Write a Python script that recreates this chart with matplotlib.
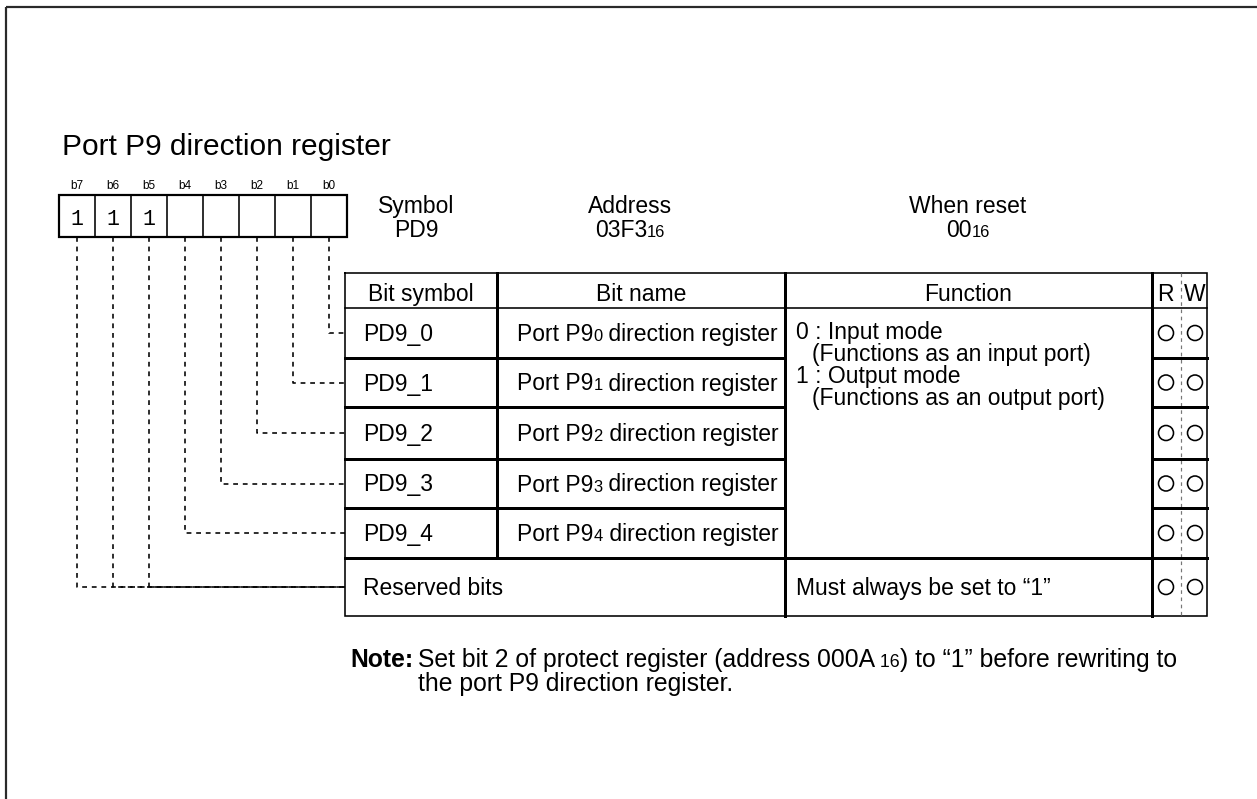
import matplotlib
matplotlib.use("Agg")
import matplotlib.pyplot as plt
from matplotlib.patches import Circle, Rectangle

# ---------------- data ----------------
title = "Port P9 direction register"
bit_labels = ["b7", "b6", "b5", "b4", "b3", "b2", "b1", "b0"]
bit_values = ["1", "1", "1", "", "", "", "", ""]
header_info = [("Symbol", [("PD9", 1.0)]),
               ("Address", [("03F3", 1.0), ("16", 0.72)]),
               ("When reset", [("00", 1.0), ("16", 0.72)])]
col_headers = ["Bit symbol", "Bit name", "Function", "R", "W"]
bit_symbols = ["PD9_0", "PD9_1", "PD9_2", "PD9_3", "PD9_4"]
bit_names = [("Port P9", "0", " direction register"),
             ("Port P9", "1", " direction register"),
             ("Port P9", "2", " direction register"),
             ("Port P9", "3", " direction register"),
             ("Port P9", "4", " direction register")]
function_lines = ["0 : Input mode", "(Functions as an input port)",
                  "1 : Output mode", "(Functions as an output port)"]
function_indent = [0, 1, 0, 1]
reserved_name = "Reserved bits"
reserved_function = "Must always be set to \u201c1\u201d"
rw_flags = [(True, True)] * 6
# bit index (0..7, b7 first) -> table row it connects to
bit_to_row = [5, 5, 5, 4, 3, 2, 1, 0]
note_bold = "Note:"
note_line1 = [("Set bit 2 of protect register (address 000A", 1.0), (" 16", 0.72),
              (") to \u201c1\u201d before rewriting to", 1.0)]
note_line2 = "the port P9 direction register."

# ---------------- figure ----------------
W, H = 1257, 799
fig = plt.figure(figsize=(W / 100, H / 100), dpi=100)
ax = fig.add_axes([0, 0, 1, 1])
ax.set_xlim(0, W)
ax.set_ylim(H, 0)
ax.axis("off")
renderer = fig.canvas.get_renderer()

FONT = "Liberation Sans"
BS = 16.5  # body size (pt)
NS = 17.8  # note size (pt)


def px(v):
    return v * 0.72


def seq(x, y, parts, size, ha="left", weight="normal"):
    """Draw text segments sequentially on a common baseline."""
    objs = []
    for s, scale in parts:
        t = ax.text(0, y, s, fontsize=size * scale, family=FONT, va="baseline",
                    ha="left", weight=weight, color="black")
        objs.append(t)
    widths = [t.get_window_extent(renderer).width for t in objs]
    total = sum(widths)
    x0 = x - total / 2 if ha == "center" else x
    for t, w in zip(objs, widths):
        t.set_x(x0)
        x0 += w
    return x0


# outer frame (only top/left visible)
ax.add_patch(Rectangle((6, 7), 1400, 900, fill=False, lw=px(2.2), ec="#2a2a2a"))

# title
ax.text(62, 155, title, fontsize=21.5, family=FONT, va="baseline", ha="left")

# bit boxes
bx0, by0, bw, bh = 59, 195, 36, 42
for i, (lab, val) in enumerate(zip(bit_labels, bit_values)):
    cx = bx0 + bw * (i + 0.5)
    ax.text(cx, 189, lab, fontsize=8.5, family=FONT, ha="center", va="baseline")
    if val:
        ax.text(cx, 225, val, fontsize=15.5, family="Liberation Mono", ha="center",
                va="baseline")
ax.add_patch(Rectangle((bx0, by0), bw * 8, bh, fill=False, lw=px(2.2), ec="black"))
for i in range(1, 8):
    ax.plot([bx0 + bw * i] * 2, [by0, by0 + bh], color="black", lw=px(1.6))

# header info
info_x = [416, 630, 968]
for (head, sub), x in zip(header_info, info_x):
    ax.text(x, 213, head, fontsize=BS, family=FONT, ha="center", va="baseline")
    seq(x, 237, sub, BS, ha="center")

# table geometry
xL, xS, xN, xR, xE = 345, 497, 785, 1152, 1207
xRW = 1181
y_top, y_head = 273, 308
row_edges = [308, 358, 407, 459, 508, 558, 616]
row_c = [(row_edges[i] + row_edges[i + 1]) / 2 for i in range(6)]

thin, thick = px(1.6), px(3.0)
ax.plot([xL, xE, xE, xL, xL], [y_top, y_top, row_edges[-1], row_edges[-1], y_top],
        color="black", lw=thin, solid_joinstyle="miter")
ax.plot([xL, xE], [y_head, y_head], color="black", lw=thin)
ax.plot([xS, xS], [y_top, row_edges[5]], color="black", lw=thick)
ax.plot([xN, xN], [y_top, row_edges[-1]], color="black", lw=thick)
ax.plot([xR, xR], [y_top, row_edges[-1]], color="black", lw=thick)
ax.plot([xRW, xRW], [y_top, row_edges[-1]], color="#777777", lw=px(1.2),
        linestyle=(0, (3, 3)))
for k in range(1, 5):
    y = row_edges[k]
    ax.plot([xL, xN], [y, y], color="black", lw=thick)
    ax.plot([xR, xE], [y, y], color="black", lw=thick)
ax.plot([xL, xE], [row_edges[5], row_edges[5]], color="black", lw=thick)

# headers
hb = 301
ax.text((xL + xS) / 2, hb, col_headers[0], fontsize=BS, family=FONT, ha="center", va="baseline")
ax.text((xS + xN) / 2, hb, col_headers[1], fontsize=BS, family=FONT, ha="center", va="baseline")
ax.text((xN + xR) / 2, hb, col_headers[2], fontsize=BS, family=FONT, ha="center", va="baseline")
ax.text(1165, hb, col_headers[3], fontsize=BS, family=FONT, ha="center", va="baseline")
ax.text(1195, hb, col_headers[4], fontsize=BS, family=FONT, ha="center", va="baseline")

# rows
for r in range(5):
    yb = row_c[r] + 8
    ax.text(363, yb, bit_symbols[r], fontsize=BS, family=FONT, ha="left", va="baseline")
    a, s, b = bit_names[r]
    seq(517, yb, [(a, 1.0), (s, 0.72), (b, 1.0)], BS)
ax.text(363, row_c[5] + 8, reserved_name, fontsize=BS, family=FONT, ha="left", va="baseline")
ax.text(796, row_c[5] + 8, reserved_function, fontsize=BS, family=FONT, ha="left", va="baseline")

for ln, ind, yb in zip(function_lines, function_indent, [339, 361, 383, 405]):
    ax.text(796 + 16 * ind, yb, ln, fontsize=BS, family=FONT, ha="left", va="baseline")

# R/W circles
for r, (rd, wr) in enumerate(rw_flags):
    for flag, cx in ((rd, 1166), (wr, 1195)):
        if flag:
            ax.add_patch(Circle((cx, row_c[r]), 7.5, fill=False, lw=px(1.6), ec="black"))

# connectors
for i, row in enumerate(bit_to_row):
    cx = bx0 + bw * (i + 0.5)
    y = row_c[row]
    ax.plot([cx, cx, xL], [by0 + bh, y, y], color="black", lw=px(1.6),
            linestyle=(0, (3, 3)))

# note
x_after = seq(350, 667, [(note_bold, 1.0)], NS, weight="bold")
x_set = x_after + 5
seq(x_set, 667, note_line1, NS)
ax.text(x_set, 691, note_line2, fontsize=NS, family=FONT, ha="left", va="baseline")

fig.savefig("out.png", dpi=100)
